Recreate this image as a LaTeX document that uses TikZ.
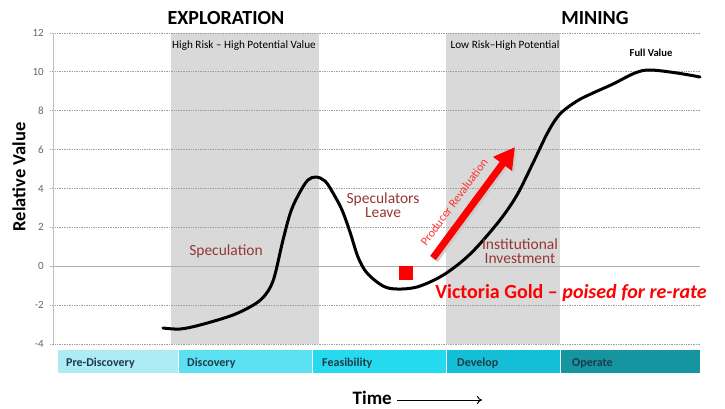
\documentclass[tikz,border=0pt]{standalone}
\usepackage{fontspec}
\setmainfont{Carlito}
\usetikzlibrary{arrows.meta}
\definecolor{maroon}{HTML}{953735}
\definecolor{bandgray}{HTML}{D9D9D9}
\definecolor{cA}{HTML}{ADEBF5}
\definecolor{cB}{HTML}{5CE1F2}
\definecolor{cC}{HTML}{25D9EE}
\definecolor{cD}{HTML}{14BED6}
\definecolor{cE}{HTML}{14959F}
\definecolor{barText}{HTML}{1F3A48}
\definecolor{vred}{HTML}{FF0000}
\tikzset{
  grid/.style={draw=gray!75, line width=0.8pt, dash pattern=on 1pt off 0.7pt},
  ylab/.style={anchor=east, text=gray!80!black, font=\fontsize{11}{12}\selectfont, inner sep=0pt},
  seg/.style={anchor=base west, text=barText, font=\bfseries\fontsize{12}{13}\selectfont, inner sep=0pt},
  title/.style={font=\bfseries\fontsize{20}{22}\selectfont, inner sep=0pt},
  anno/.style={text=maroon, font=\fontsize{15.5}{14}\selectfont, inner sep=0pt, align=center},
  small/.style={font=\fontsize{11.2}{12}\selectfont, inner sep=0pt}
}
\begin{document}
\begin{tikzpicture}[x=1pt,y=-1pt]
\useasboundingbox (0,0) rectangle (725,409);
% bands
\fill[bandgray] (171,33) rectangle (319,344);
\fill[bandgray] (446,33) rectangle (560,344);
% grid
\foreach \v/\yy in {12/33,10/71.9,8/110.8,6/149.6,4/188.5,-2/305.1,-4/344}{
  \draw[grid] (50,\yy) -- (700,\yy);
  \node[ylab] (y\v) at (44,\yy) {\v};
}
\draw[grid] (50,227.3) -- (700,227.3);
\node[ylab] (yp2) at (44,227.3) {2};
\draw[gray!60, line width=1pt] (50,266.2) -- (700,266.2);
\node[ylab] (y0) at (44,266.2) {0};
\draw[gray!50, line width=0.8pt] (53,33) -- (53,344);
% bottom bar
\fill[cA] (58,350) rectangle (178,373);
\fill[cB] (178,350) rectangle (312,373);
\fill[cC] (312,350) rectangle (446,373);
\fill[cD] (446,350) rectangle (560,373);
\fill[cE] (560,350) rectangle (700,373);
\draw[white, line width=0.8pt] (178,350) -- (178,373) (312,350) -- (312,373) (446,350) -- (446,373) (560,350) -- (560,373);
\node[seg] (s1) at (66,366) {Pre-Discovery};
\node[seg] (s2) at (187,366) {Discovery};
\node[seg] (s3) at (322,366) {Feasibility};
\node[seg] (s4) at (457,366) {Develop};
\node[seg] (s5) at (572,366) {Operate};
% titles
\node[title] (expl) at (226,18) {EXPLORATION};
\node[title] (mine) at (595,18) {MINING};
\node[small] (hr) at (244,46) {High Risk – High Potential Value};
\node[small] (lr) at (505,46) {Low Risk–High Potential};
\node[font=\bfseries\fontsize{10.6}{11}\selectfont, inner sep=0pt] (fv) at (651,53) {Full Value};
\node[rotate=90, font=\bfseries\fontsize{18.5}{20}\selectfont, inner sep=0pt] (ytitle) at (19,177) {Relative Value};
% curve
\draw[line width=3pt, line cap=round, line join=round] plot[smooth, tension=0.55] coordinates {
(163,328) (180,329) (200,325) (233,315) (255,304) (266,294) (274,278) (283,240) (291,211) (300,192) (308,180) (316,177) (325,181) (333,193) (342,210) (350,232) (358,257) (367,273) (383,286) (397,289) (417,287) (440,277) (460,263) (477,247) (500,220) (517,195) (533,163) (548,132) (560,114) (577,101) (593,93) (613,84) (635,73) (650,70) (677,73) (700,77)};
% annotations
\node[anno] (spec) at (226,251) {Speculation};
\node[anno, text width=90pt] (leave) at (383,205) {Speculators\\Leave};
\node[anno, text width=90pt] (inst) at (520,251) {Institutional\\Investment};
\node[inner sep=0pt, text=vred, font=\bfseries\fontsize{20}{22}\selectfont] (vg) at (571,293) {Victoria Gold – \textit{poised for re-rate}};
% red square
\fill[vred] (399,266) rectangle (413,280);
% arrow
\coordinate (atail) at (433,258);
\coordinate (ahead) at (515,147);
\draw[gray!40, line width=7pt, -{Triangle[length=21pt,width=22pt]}] ([shift={(2,2)}]atail) -- ([shift={(2,2)}]ahead);
\draw[vred, line width=7pt, -{Triangle[length=21pt,width=22pt]}] (atail) -- (ahead);
\node[rotate=53.5, text=vred!80!white, font=\fontsize{12}{12}\selectfont, inner sep=0pt] (prod) at (454,202) {Producer Revaluation};
% time
\node[font=\bfseries\fontsize{19}{20}\selectfont, inner sep=0pt, anchor=base east] (time) at (392,404.5) {Time};
\coordinate (tend) at (482,400);
\draw[line width=1pt, -{To[length=5pt,width=8pt]}] ([xshift=5pt]time.east |- tend) -- (tend);
\end{tikzpicture}
\end{document}
